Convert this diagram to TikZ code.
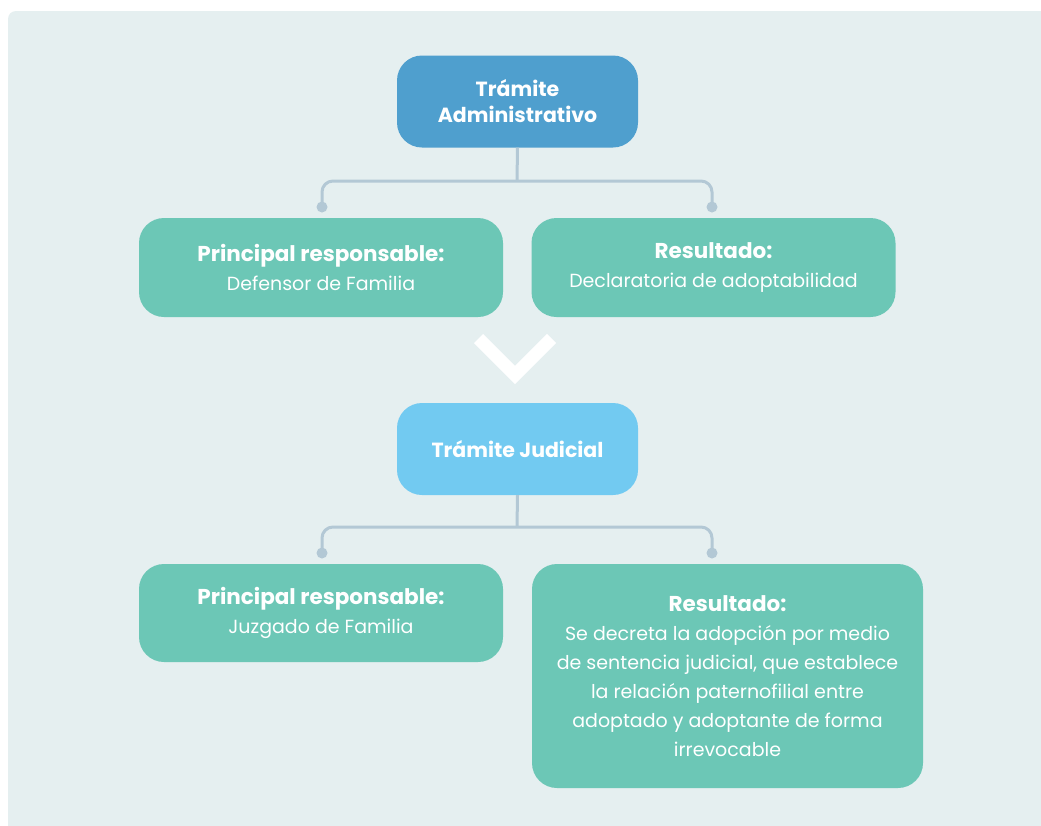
\documentclass[tikz,border=0pt]{standalone}
\usepackage{fontspec}
\setmainfont{Poppins}
\definecolor{bgc}{HTML}{E5EFF0}
\definecolor{blueA}{HTML}{4F9FCE}
\definecolor{blueJ}{HTML}{72CAF1}
\definecolor{greenB}{HTML}{6CC7B6}
\definecolor{connc}{HTML}{B3C8D5}
\newcommand{\hd}[1]{{\fontsize{21.5}{29}\selectfont\bfseries #1}}
\begin{document}
\begin{tikzpicture}[x=1pt,y=-1pt,
  box/.style={rounded corners=25pt, inner sep=0pt, text=white, align=center,
    font=\fontsize{19}{29}\selectfont},
  headbox/.style={box, minimum width=241pt, minimum height=92pt},
  greenbox/.style={box, fill=greenB, minimum width=364pt, minimum height=99pt},
  conn/.style={draw=connc, line width=3pt, rounded corners=11pt},
  dot/.style={circle, fill=connc, inner sep=0pt, minimum size=11pt}]
\useasboundingbox (0,0) rectangle (1041,825);
\fill[white] (0,0) rectangle (1041,825);
\fill[bgc, rounded corners=8pt] (8,11) rectangle (1060,845);

\node[headbox, fill=blueA, font=\fontsize{20.5}{26}\selectfont\bfseries] (adm) at (517.5,101.5) {Trámite\\Administrativo};
\node[greenbox] (resp1) at (321,267.5) {\hd{Principal responsable:}\\Defensor de Familia};
\node[greenbox] (res1) at (713.5,267.5) {\hd{Resultado:}\\Declaratoria de adoptabilidad};

\node[headbox, fill=blueJ, font=\fontsize{20.5}{26}\selectfont\bfseries] (jud) at (517.5,449) {Trámite Judicial};
\node[greenbox, minimum height=98pt] (resp2) at (321,613) {\hd{Principal responsable:}\\Juzgado de Familia};
\node[box, fill=greenB, minimum width=391pt, minimum height=224pt] (res2) at (727.5,676) {\hd{Resultado:}\\Se decreta la adopción por medio\\de sentencia judicial, que establece\\la relación paternofilial entre\\adoptado y adoptante de forma\\irrevocable};

% connectors top
\coordinate (j1) at (517,181);
\node[dot] (d1) at (322,207) {};
\node[dot] (d2) at (712,207) {};
\draw[conn] (adm.south) -- (j1);
\draw[conn] (d1.center) |- (j1) -| (d2.center);

% connectors bottom
\coordinate (j2) at (517,527);
\node[dot] (d3) at (322,553) {};
\node[dot] (d4) at (712,553) {};
\draw[conn] (jud.south) -- (j2);
\draw[conn] (d3.center) |- (j2) -| (d4.center);

% chevron
\coordinate (c1) at (478.5,338.5);
\coordinate (c2) at (515,375);
\coordinate (c3) at (551.5,338.5);
\draw[white, line width=13pt, miter limit=10, line join=miter] (c1) -- (c2) -- (c3);
\end{tikzpicture}
\end{document}
